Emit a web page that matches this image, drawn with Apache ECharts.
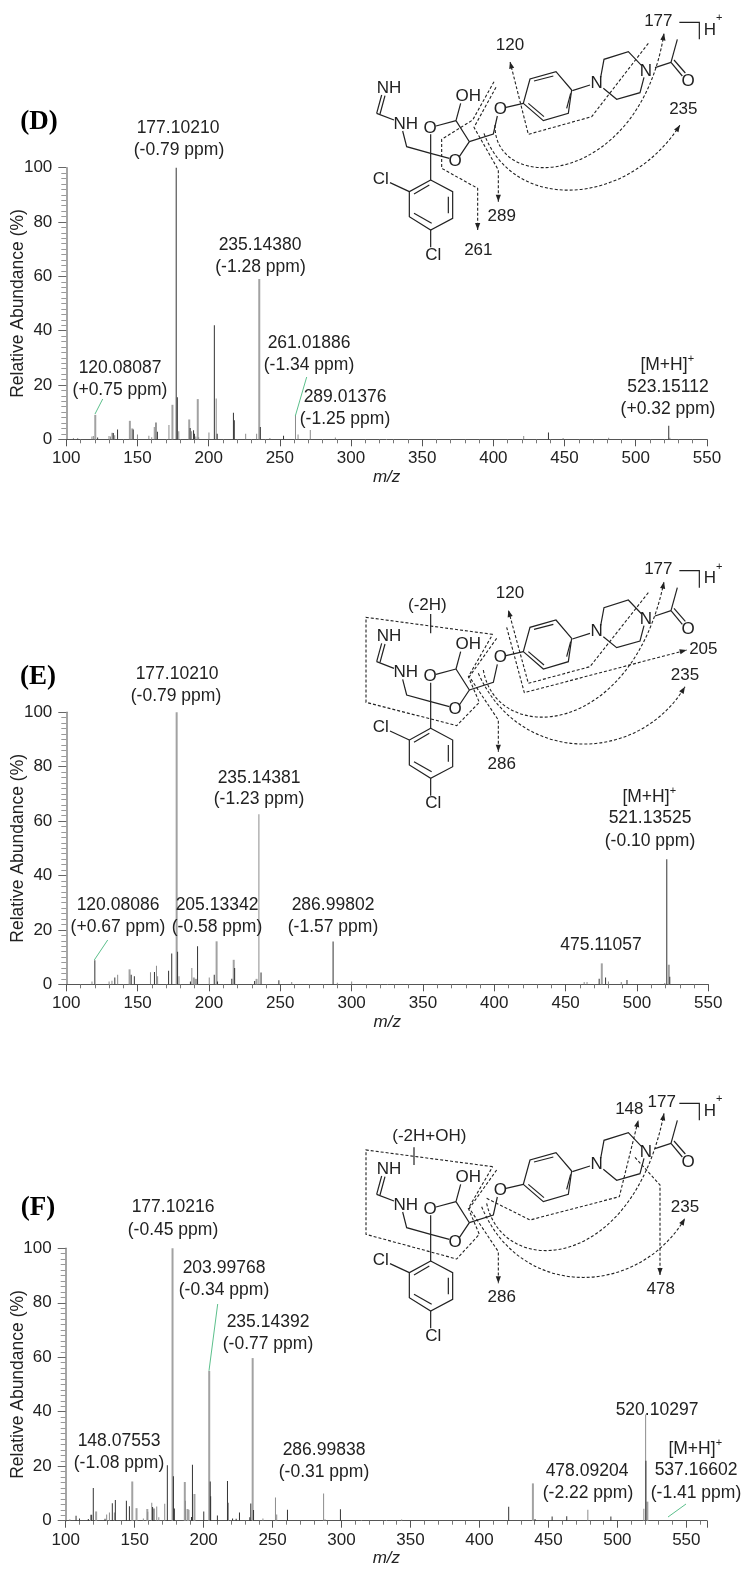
<!DOCTYPE html>
<html><head><meta charset="utf-8">
<style>html,body{margin:0;padding:0;background:#fff}#c{width:752px;height:1577px}</style>
<script src="https://cdn.jsdelivr.net/npm/echarts@6/dist/echarts.min.js"></script>
</head><body><div id="c"></div>
<script>
// ---------- peak data: [m/z, relative abundance %] ----------
const darkD = [[105,.3],[108,.3],[122,.7],[133,2.3],[136,3.6],[147,3.6],[163,6.2],[164,2.8],[177.2,100],[178,15.5],[187,4.2],[189.4,3.3],[190,2],[204,42],[206,2],[217.4,9.8],[218,7],[236.3,4.5],[252.6,1.3],[438.7,2.5],[523.2,5]];
const grayD = [[118,1],[119,1.2],[130,1.2],[131,1],[134,1.5],[150,1.8],[158,1.3],[160,.8],[161.8,4.5],[172.1,5.3],[179,3],[188,3],[191,1],[193,.8],[200.2,2.5],[205.3,15],[226,2],[233.7,2],[243,.5],[261,9],[262.8,1.8],[271.4,3.4],[289,.7],[421.3,1.2],[449,.5],[481,.6],[524,.6]];
const thickD = [[120,9],[132,2.4],[144.3,6.8],[146,4],[174.2,12.7],[186,7.3],[192,14.8],[235.2,59]];

const darkE = [[120,8.8],[134,2.5],[145.5,3.5],[147.7,3],[161.8,4.5],[171.7,5],[173.9,11.3],[178,12],[187,1],[192,14],[203.7,3.5],[206,1],[216,2],[218,6],[232,1.2],[236.5,4.3],[249,1.5],[287,15.7],[473.5,2],[478,2.5],[493,1.6],[520.9,46],[523,2.8]];
const grayE = [[118,1],[130,1],[132,1.3],[136,3.5],[159,4.4],[163.2,6.8],[164,3],[179,3],[188,6],[200.2,2.5],[235,62.5],[258,.8],[290,.6],[300,1],[463,.8],[465,.8],[480,1],[489,.8],[519.5,.5]];
const thickE = [[144,5.5],[177,100],[189,2.5],[190,2],[191,2],[205,15.8],[217,9],[233,2],[475,7.7],[522,7.2]];

const darkF = [[107.5,1.8],[110,.8],[116.4,.6],[118.8,2.2],[120,12],[128.5,.7],[133.8,6.4],[136,7.6],[144,7.3],[146.2,5.3],[163,5],[164,4.5],[173.7,20.4],[178.1,16.3],[178.8,4.5],[191.2,1.4],[191.9,20.5],[200.1,3.4],[204.8,14.4],[205.1,9],[210,1.9],[217.3,14.6],[221,.8],[223.6,.7],[226,3],[233.5,1.3],[234.2,6.3],[236.2,3.9],[260.8,4],[299.2,4.2],[421.2,5.1],[440.3,.6],[452.7,1.5],[463.3,1.6],[495.3,1.5],[520.7,22]];
const grayF = [[103,.5],[118,2.2],[129.7,2.3],[131.7,3],[135.3,3],[156.3,.8],[159.5,3.3],[162.4,6.6],[166,5.2],[167.5,1.3],[171.8,6.2],[186.8,7.3],[218,6.6],[243,.8],[252.1,8.5],[253,2.3],[287,10],[288,.5],[314.4,.3],[343.6,.4],[478.6,4],[519.2,4.4],[520.5,39]];
const thickF = [[121.7,3.4],[147.9,14.4],[151,4.6],[158.8,4.3],[177.1,100],[186,14.2],[188,4.3],[188.7,4],[193,9.8],[203.7,55],[235.2,59.7],[438.4,13.7],[521.4,7]];

// ---------- tick labels and axis ranges ----------
const xMin = 100, xInterval = 50;
const xMaxes = [550, 550, 565];
const yTicks = [0, 20, 40, 60, 80, 100];

// ---------- annotations (text, centre x, centre y, in page pixels) ----------
const peakTexts = [
 ['177.10210',178,128],['(-0.79 ppm)',179,150],['235.14380',260,245],['(-1.28 ppm)',260.5,267],
 ['261.01886',309,343],['(-1.34 ppm)',309,365],['289.01376',345,397],['(-1.25 ppm)',345,419],
 ['120.08087',120,368],['(+0.75 ppm)',120,390],['523.15112',668,387],['(+0.32 ppm)',668,409],
 ['177.10210',177,674],['(-0.79 ppm)',176,696],['235.14381',259,778],['(-1.23 ppm)',259,799],
 ['120.08086',118,905],['(+0.67 ppm)',118,927],['205.13342',217,905],['(-0.58 ppm)',217,927],
 ['286.99802',333,905],['(-1.57 ppm)',333,927],['475.11057',601,945],['521.13525',650,818],['(-0.10 ppm)',650,841],
 ['177.10216',173,1207],['(-0.45 ppm)',173,1230],['203.99768',224,1268],['(-0.34 ppm)',224,1290],
 ['235.14392',268,1322],['(-0.77 ppm)',268,1344],['148.07553',119,1441],['(-1.08 ppm)',119,1463],
 ['286.99838',324,1450],['(-0.31 ppm)',324,1472],['520.10297',657,1410],['537.16602',696,1470],['(-1.41 ppm)',696,1493],
 ['478.09204',587,1471],['(-2.22 ppm)',588,1493]
];
const mhLabels = [[668,365],[650,797],[696,1449]];
const panelTags = [['(D)',39,122],['(E)',38,677],['(F)',38,1208]];
const greenLeaders = [
 [[102.7,399],[95,414]],[[306.7,377],[295.3,416]],[[107.7,940],[94.3,960]],
 [[217.7,1304],[209,1370.7]],[[686,1504],[668,1517]]
];

// ---------- molecule drawing (3x coordinates, offset per panel) ----------
const skeleton = [
 [[1012,118],[993,187]],[[993,187],[945,203]],[[993,187],[1027,228]],[[1002,180],[1036,219]],
 [[782,232],[792,178],[865,155],[905,197]],[[912,232],[900,278],[830,298],[790,265]],[[750,255],[697,272]],
 [[695,270],[648,215],[570,237],[550,310],[610,362],[685,340],[695,270]],[[640,228],[582,243]],[[612,350],[565,310]],[[680,325],[692,280]],
 [[550,310],[498,322]],[[472,348],[460,402],[388,425]],
 [[348,362],[288,378]],[[348,362],[388,425],[358,470]],[[328,475],[272,460]],[[272,460],[200,440],[188,393]],
 [[162,360],[110,340]],[[110,340],[125,285]],[[120,342],[135,287]],[[348,362],[362,310]],[[272,403],[272,540]],
 [[272,540],[338,575],[338,655],[272,690],[208,650],[208,575],[272,540]],[[325,590],[325,640]],[[275,670],[222,640]],[[222,582],[268,555]],
 [[208,575],[150,548]],[[272,690],[272,742]],[[1018,67],[1078,67],[1078,118]]
];
const atoms = [['NH',147,265],['NH',197,372],['O',270,385],['OH',385,288],['O',345,483],['O',481,328],['N',770,250],['N',918,213],['O',1044,243],['Cl',122,538],['Cl',280,765],['H',1110,90]];
const structures = [
 { dy:0, yOff:0, numbers:[['177',955,63],['120',510,135],['235',1030,328],['289',485,648],['261',415,750]],
   dash:[[[462,245],[398,360],[305,418],[305,505],[413,565],[413,690]],[[468,262],[402,382],[475,510],[475,605]],[[925,130],[755,350],[565,403],[510,185]]],
   plain:[], curves:[[[465,375],[461,588],[900,560],[972,100]],[[432,400],[520,640],[863,622],[1020,375]]] },
 { dy:540, yOff:25, numbers:[['177',955,88],['120',510,160],['205',1090,328],['235',1035,407],['286',485,672],['(-2H)',262,195]],
   dash:[[[470,295],[388,410],[475,540],[475,635]],[[925,158],[750,380],[565,430],[505,210]],[[500,262],[553,458],[1040,330]]],
   plain:[[[458,283],[78,232],[78,487],[350,557],[418,487],[385,410],[458,283]]],
   ticks:[[[272,222],[272,280]]],
   curves:[[[430,390],[470,620],[876,595],[972,125]],[[415,400],[540,680],[897,672],[1035,440]]] },
 { dy:1070, yOff:33, numbers:[['148',868,117],['177',965,97],['235',1035,412],['478',962,657],['286',485,682],['(-2H+OH)',268,200]],
   dash:[[[470,300],[388,415],[475,545],[475,640]],[[440,385],[570,450],[838,380],[895,150]],[[885,262],[960,345],[960,615]]],
   plain:[[[458,290],[78,240],[78,493],[350,567],[418,493],[385,415],[458,290]]],
   ticks:[[[222,232],[222,285]]],
   curves:[[[440,400],[490,630],[879,607],[972,130]],[[425,410],[540,690],[893,684],[1035,445]]] }
];

const SANS = '"Liberation Sans",Arial,sans-serif';
const INK = '#222';
const graphic = [];
const txt = (t,x,y,size,extra) => graphic.push({type:'text',silent:true,x,y,z:50,style:Object.assign({text:t,fill:INK,font:size+'px '+SANS,textAlign:'center',textVerticalAlign:'middle',verticalAlign:'middle'},extra||{})});
const line = (pts,stroke,w,dash) => graphic.push({type:'polyline',silent:true,z:40,shape:{points:pts},style:{fill:null,stroke,lineWidth:w,lineDash:dash||null}});

peakTexts.forEach(a=>txt(a[0],a[1],a[2],17.5));
mhLabels.forEach(a=>{txt('[M+H]',a[0]-4,a[1],17.5);txt('+',a[0]+23,a[1]-6,11);});
panelTags.forEach(a=>txt(a[0],a[1],a[2],27,{font:'bold 27px "Liberation Serif","Times New Roman",serif',fill:'#000'}));
greenLeaders.forEach(p=>line(p,'#5cc08c',1));

structures.forEach(s=>{
  const P = p=>[340+p[0]/3, s.dy+p[1]/3];
  const Q = p=>[340+p[0]/3, s.dy+s.yOff/3+p[1]/3];
  skeleton.forEach(l=>line(l.map(Q),'#222',1.2));
  atoms.forEach(a=>{const q=Q([a[1],a[2]]);txt(a[0],q[0],q[1],17);});
  const pl=Q([1138,55]);txt('+',pl[0],pl[1],11);
  s.numbers.forEach(a=>{const q=P([a[1],a[2]]);txt(a[0],q[0],q[1],17);});
  const arrow=(from,to)=>{
    const dx=to[0]-from[0],dy=to[1]-from[1],L=Math.hypot(dx,dy),ux=dx/L,uy=dy/L,len=7,w=2.6;
    graphic.push({type:'polygon',silent:true,z:41,shape:{points:[to,[to[0]-ux*len-uy*w,to[1]-uy*len+ux*w],[to[0]-ux*len+uy*w,to[1]-uy*len-ux*w]]},style:{fill:'#222'}});
  };
  s.dash.forEach(l=>{const pts=l.map(P);line(pts,'#222',1.1,[3,2]);arrow(pts[pts.length-2],pts[pts.length-1]);});
  (s.plain||[]).forEach(l=>line(l.map(P),'#222',1.1,[3,2]));
  (s.ticks||[]).forEach(l=>line(l.map(P),'#222',1.2));
  s.curves.forEach(c=>{
    const [a,b,d,e]=c.map(P);
    graphic.push({type:'bezierCurve',silent:true,z:40,shape:{x1:a[0],y1:a[1],cpx1:b[0],cpy1:b[1],cpx2:d[0],cpy2:d[1],x2:e[0],y2:e[1]},style:{fill:null,stroke:'#222',lineWidth:1.1,lineDash:[3,2]}});
    arrow(d,e);
  });
});

// ---------- layout ----------
const grids = [
 {left:66.3,top:167.7,width:640.6,height:271.6,outerBoundsMode:'none'},
 {left:66.3,top:712.3,width:642,height:272,outerBoundsMode:'none'},
 {left:65.7,top:1248.3,width:641.3,height:272.4,outerBoundsMode:'none'}
];
const fontAxis = {fontFamily:SANS,fontSize:17,color:INK};
const xAxis = grids.map((g,i)=>({
  type:'value',gridIndex:i,min:xMin,max:xMaxes[i],interval:xInterval,
  name:'m/z',nameLocation:'middle',nameGap:29,nameMoveOverlap:false,nameTextStyle:{fontFamily:SANS,fontSize:17,fontStyle:'italic',color:INK},
  splitLine:{show:false},
  axisLine:{onZero:false,lineStyle:{color:'#555',width:1}},
  axisTick:{length:7,lineStyle:{color:'#555'}},
  minorTick:{show:true,splitNumber:5,length:4,lineStyle:{color:'#777'}},
  axisLabel:Object.assign({margin:11,showMaxLabel:i<2},fontAxis)
}));
const yAxis = grids.map((g,i)=>({
  type:'value',gridIndex:i,min:yTicks[0],max:yTicks[yTicks.length-1],interval:yTicks[1]-yTicks[0],
  name:'Relative Abundance (%)',nameLocation:'middle',nameGap:39,nameMoveOverlap:false,nameTextStyle:{fontFamily:SANS,fontSize:17.5,color:INK},
  splitLine:{show:false},
  axisLine:{lineStyle:{color:'#888',width:1.5}},
  axisTick:{length:8,lineStyle:{color:'#666'}},
  minorTick:{show:true,splitNumber:10,length:5,lineStyle:{color:'#999'}},
  axisLabel:Object.assign({margin:14},fontAxis)
}));
const bars = (data,i,color,w) => ({type:'bar',data,xAxisIndex:i,yAxisIndex:i,barWidth:w,barGap:'-100%',silent:true,animation:false,itemStyle:{color}});
const series = [];
[[thickD,grayD,darkD],[thickE,grayE,darkE],[thickF,grayF,darkF]].forEach((t,i)=>{
  series.push(bars(t[0],i,'#a2a2a2',2),bars(t[1],i,'#8c8c8c',1),bars(t[2],i,'#333',1));
});
const chart = echarts.init(document.getElementById('c'),null,{renderer:'canvas'});
chart.setOption({animation:false,backgroundColor:'#fff',grid:grids,xAxis,yAxis,series,graphic});
</script></body></html>
